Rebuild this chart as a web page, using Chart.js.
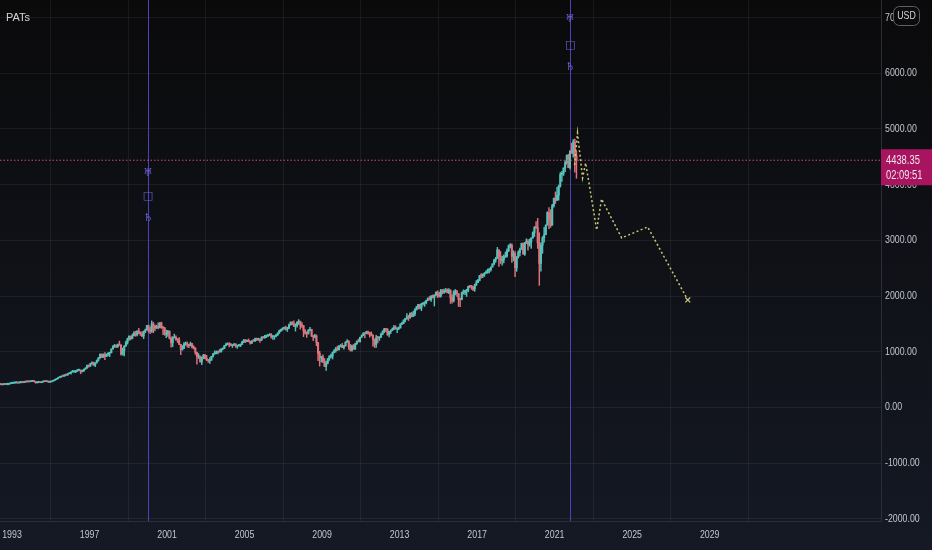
<!DOCTYPE html>
<html>
<head>
<meta charset="utf-8">
<script src="https://cdn.jsdelivr.net/npm/chart.js@4.4.1/dist/chart.umd.min.js"></script>
<style>
  html, body { margin: 0; padding: 0; background: #0c0d11; }
  #wrap { width: 932px; height: 550px; position: relative; }
</style>
</head>
<body>
<div id="wrap"><canvas id="myChart" width="932" height="550"></canvas></div>
<script>
// monthly S&P 500 candles, first one is May 1992
const startYear = 1992;
const startMonth = 5;
const firstOpen = 414.9;

const closes = [
  415.4, 408.1, 424.2, 414.0, 417.8, 418.7, 431.4, 435.7, // 1992
  438.8, 443.4, 451.7, 440.2, 450.2, 450.5, 448.1, 463.6, 458.9, 467.8, 461.8, 466.5, // 1993
  481.6, 467.1, 445.8, 450.9, 456.5, 444.3, 458.3, 475.5, 462.7, 472.4, 453.7, 459.3, // 1994
  470.4, 487.4, 500.7, 514.7, 533.4, 544.8, 562.1, 561.9, 584.4, 581.5, 605.4, 615.9, // 1995
  636.0, 640.4, 645.5, 654.2, 669.1, 670.6, 639.9, 651.9, 687.3, 705.3, 757.0, 740.7, // 1996
  786.2, 791.0, 757.1, 801.3, 848.3, 885.1, 954.3, 899.5, 947.3, 914.6, 955.4, 970.4, // 1997
  980.3, 1049.3, 1101.8, 1111.8, 1090.8, 1133.8, 1120.7, 957.3, 1017.0, 1098.7, 1163.6, 1229.2, // 1998
  1279.6, 1238.3, 1286.4, 1335.2, 1301.8, 1372.7, 1328.7, 1320.4, 1282.7, 1362.9, 1388.9, 1469.3, // 1999
  1394.5, 1366.4, 1498.6, 1452.4, 1420.6, 1454.6, 1430.8, 1517.7, 1436.5, 1429.4, 1315.2, 1320.3, // 2000
  1366.0, 1239.9, 1160.3, 1249.5, 1255.8, 1224.4, 1211.2, 1133.6, 1040.9, 1059.8, 1139.5, 1148.1, // 2001
  1130.2, 1106.7, 1147.4, 1076.9, 1067.1, 989.8, 911.6, 916.1, 815.3, 885.8, 936.3, 879.8, // 2002
  855.7, 841.2, 848.2, 916.9, 963.6, 974.5, 990.3, 1008.0, 996.0, 1050.7, 1058.2, 1111.9, // 2003
  1131.1, 1144.9, 1126.2, 1107.3, 1120.7, 1140.8, 1101.7, 1104.2, 1114.6, 1130.2, 1173.8, 1211.9, // 2004
  1181.3, 1203.6, 1180.6, 1156.9, 1191.5, 1191.3, 1234.2, 1220.3, 1228.8, 1207.0, 1249.5, 1248.3, // 2005
  1280.1, 1280.7, 1294.8, 1310.6, 1270.1, 1270.2, 1276.7, 1303.8, 1335.9, 1377.9, 1400.6, 1418.3, // 2006
  1438.2, 1406.8, 1420.9, 1482.4, 1530.6, 1503.4, 1455.3, 1474.0, 1526.8, 1549.4, 1481.1, 1468.4, // 2007
  1378.6, 1330.6, 1322.7, 1385.6, 1400.4, 1280.0, 1267.4, 1282.8, 1166.4, 968.8, 896.2, 903.3, // 2008
  825.9, 735.1, 797.9, 872.8, 919.1, 919.3, 987.5, 1020.6, 1057.1, 1036.2, 1095.6, 1115.1, // 2009
  1073.9, 1104.5, 1169.4, 1186.7, 1089.4, 1030.7, 1101.6, 1049.3, 1141.2, 1183.3, 1180.6, 1257.6, // 2010
  1286.1, 1327.2, 1325.8, 1363.6, 1345.2, 1320.6, 1292.3, 1218.9, 1131.4, 1253.3, 1246.9, 1257.6, // 2011
  1312.4, 1365.7, 1408.5, 1397.9, 1310.3, 1362.2, 1379.3, 1406.6, 1440.7, 1412.2, 1416.2, 1426.2, // 2012
  1498.1, 1514.7, 1569.2, 1597.6, 1630.7, 1606.3, 1685.7, 1633.0, 1681.6, 1756.5, 1805.8, 1848.4, // 2013
  1782.6, 1859.5, 1872.3, 1883.9, 1923.6, 1960.2, 1931.0, 2003.4, 1972.3, 2018.1, 2067.6, 2058.9, // 2014
  1995.0, 2104.5, 2067.9, 2085.5, 2107.4, 2063.1, 2104.0, 1972.2, 1920.0, 2079.4, 2080.4, 2043.9, // 2015
  1940.2, 1932.2, 2059.7, 2065.3, 2096.9, 2098.9, 2173.6, 2170.9, 2168.3, 2126.2, 2198.8, 2238.8, // 2016
  2278.9, 2363.6, 2362.7, 2384.2, 2411.8, 2423.4, 2470.3, 2471.7, 2519.4, 2575.3, 2647.6, 2673.6, // 2017
  2823.8, 2713.8, 2640.9, 2648.1, 2705.3, 2718.4, 2816.3, 2901.5, 2914.0, 2711.7, 2760.2, 2506.9, // 2018
  2704.1, 2784.5, 2834.4, 2945.8, 2752.1, 2941.8, 2980.4, 2926.5, 2976.7, 3037.6, 3141.0, 3230.8, // 2019
  3225.5, 2954.2, 2584.6, 2912.4, 3044.3, 3100.3, 3271.1, 3500.3, 3363.0, 3270.0, 3621.6, 3756.1, // 2020
  3714.2, 3811.2, 3972.9, 4181.2, 4204.1, 4297.5, 4395.3, 4522.7, 4307.5, 4605.4, 4567.0, 4766.2, // 2021
  4515.6, 4438.35 // 2022
];

const highs = [
  422, 416, 425, 425, 422, 420, 432, 442,
  442, 449, 456, 452, 453, 453, 451, 464, 463, 470, 468, 471,
  483, 482, 469, 451, 458, 459, 458, 477, 476, 474, 474, 466,
  473, 488, 505, 515, 534, 552, 563, 565, 587, 587, 608, 622,
  638, 664, 656, 656, 681, 673, 671, 670, 690, 714, 758, 761,
  794, 818, 815, 804, 851, 898, 962, 961, 960, 983, 960, 986,
  992, 1050, 1105, 1130, 1123, 1139, 1190, 1122, 1066, 1112, 1193, 1244,
  1285, 1282, 1317, 1362, 1368, 1373, 1420, 1357, 1361, 1373, 1408, 1473,
  1478, 1445, 1553, 1528, 1481, 1475, 1517, 1525, 1531, 1453, 1436, 1389,
  1383, 1376, 1268, 1270, 1316, 1287, 1239, 1255, 1134, 1110, 1163, 1173,
  1176, 1131, 1173, 1147, 1107, 1070, 992, 966, 924, 907, 954, 954,
  935, 864, 895, 919, 965, 1015, 1015, 1012, 1040, 1054, 1063, 1112,
  1155, 1159, 1163, 1150, 1127, 1146, 1141, 1109, 1131, 1140, 1188, 1217,
  1217, 1212, 1229, 1192, 1200, 1219, 1246, 1245, 1243, 1233, 1270, 1276,
  1295, 1297, 1310, 1326, 1326, 1284, 1280, 1307, 1340, 1389, 1407, 1431,
  1441, 1461, 1438, 1498, 1535, 1540, 1556, 1503, 1539, 1576, 1545, 1523,
  1471, 1396, 1359, 1397, 1440, 1404, 1292, 1313, 1303, 1167, 1007, 918,
  943, 877, 833, 877, 930, 956, 997, 1040, 1080, 1101, 1113, 1130,
  1150, 1113, 1181, 1220, 1200, 1132, 1120, 1130, 1151, 1196, 1227, 1263,
  1302, 1344, 1333, 1371, 1370, 1346, 1356, 1308, 1230, 1293, 1277, 1269,
  1333, 1378, 1419, 1422, 1415, 1363, 1392, 1427, 1474, 1466, 1419, 1448,
  1504, 1531, 1570, 1598, 1687, 1654, 1698, 1709, 1730, 1776, 1814, 1849,
  1850, 1868, 1884, 1897, 1925, 1968, 1991, 2005, 2019, 2019, 2076, 2093,
  2065, 2120, 2118, 2126, 2135, 2130, 2132, 2113, 2021, 2094, 2117, 2104,
  2038, 1963, 2073, 2111, 2103, 2121, 2178, 2194, 2188, 2169, 2214, 2278,
  2301, 2372, 2401, 2398, 2419, 2454, 2484, 2491, 2519, 2582, 2657, 2695,
  2873, 2835, 2801, 2718, 2742, 2791, 2848, 2917, 2940, 2939, 2815, 2800,
  2708, 2813, 2861, 2950, 2954, 2965, 3028, 3014, 3022, 3050, 3154, 3248,
  3337, 3394, 3137, 2955, 3068, 3233, 3280, 3514, 3588, 3550, 3646, 3760,
  3870, 3950, 3994, 4219, 4238, 4302, 4430, 4537, 4546, 4608, 4744, 4808,
  4818, 4595
];

const lows = [
  410, 401, 403, 410, 407, 402, 414, 425,
  425, 431, 437, 433, 436, 439, 441, 446, 450, 457, 455, 460,
  464, 464, 436, 435, 443, 442, 444, 457, 461, 460, 448, 449,
  457, 469, 481, 496, 510, 532, 541, 553, 559, 572, 578, 602,
  597, 633, 627, 624, 645, 662, 605, 639, 649, 684, 703, 723,
  737, 773, 756, 733, 793, 830, 886, 897, 896, 855, 912, 924,
  912, 980, 1047, 1076, 1074, 1077, 1114, 940, 939, 923, 1098, 1136,
  1204, 1212, 1231, 1282, 1277, 1282, 1324, 1293, 1268, 1233, 1342, 1387,
  1350, 1326, 1346, 1339, 1374, 1420, 1411, 1429, 1419, 1305, 1294, 1254,
  1275, 1228, 1081, 1091, 1246, 1203, 1165, 1127, 945, 1026, 1054, 1114,
  1081, 1074, 1106, 1063, 1048, 952, 775, 876, 815, 768, 872, 869,
  840, 806, 789, 847, 902, 951, 962, 960, 990, 995, 1031, 1053,
  1105, 1124, 1088, 1107, 1076, 1113, 1078, 1060, 1101, 1090, 1127, 1163,
  1163, 1180, 1176, 1137, 1146, 1188, 1183, 1201, 1201, 1168, 1201, 1245,
  1245, 1253, 1268, 1290, 1245, 1219, 1224, 1265, 1290, 1327, 1360, 1385,
  1403, 1389, 1364, 1416, 1476, 1484, 1454, 1370, 1439, 1489, 1406, 1435,
  1270, 1317, 1257, 1315, 1373, 1272, 1200, 1248, 1107, 839, 741, 815,
  805, 735, 666, 783, 843, 888, 869, 978, 992, 1020, 1029, 1086,
  1071, 1045, 1101, 1170, 1040, 1010, 1011, 1040, 1040, 1131, 1174, 1173,
  1257, 1289, 1249, 1321, 1312, 1259, 1283, 1101, 1075, 1075, 1158, 1202,
  1258, 1312, 1340, 1358, 1292, 1267, 1325, 1377, 1396, 1403, 1343, 1398,
  1426, 1485, 1501, 1537, 1581, 1560, 1604, 1627, 1633, 1646, 1746, 1767,
  1770, 1738, 1834, 1814, 1860, 1915, 1930, 1905, 1964, 1821, 2001, 1972,
  1981, 1980, 2039, 2048, 2068, 2056, 2044, 1867, 1872, 1894, 2019, 1993,
  1812, 1810, 1937, 2034, 2025, 1992, 2074, 2148, 2120, 2097, 2084, 2188,
  2245, 2271, 2322, 2328, 2352, 2405, 2407, 2417, 2446, 2520, 2557, 2605,
  2682, 2533, 2585, 2553, 2594, 2691, 2698, 2796, 2864, 2603, 2631, 2347,
  2444, 2682, 2722, 2848, 2750, 2728, 2959, 2822, 2892, 2855, 3051, 3070,
  3214, 2855, 2192, 2447, 2767, 2966, 3101, 3280, 3209, 3234, 3279, 3595,
  3663, 3725, 3723, 3955, 4056, 4165, 4233, 4367, 4305, 4278, 4560, 4495,
  4222, 4114
];

// projected path (yellow dotted)
const projYears  = [2022.03, 2022.18, 2022.44, 2022.60, 2023.17, 2023.42, 2024.46, 2025.80, 2027.87];
const projValues = [4353, 4928, 4120, 4390, 3187, 3743, 3043, 3241, 1930];

// last price
const lastPrice = 4438.35;
const countdown = '02:09:51';

// Uranus square Saturn markers
const eventYears = [2000.02, 2021.80];
const eventGlyphs = ['\u2645', '\u25A1', '\u2644'];
const eventGlyphValues = [
  [4214, 3786, 3393],
  [6964, 6500, 6107]
];

const yearTicks = [1993, 1997, 2001, 2005, 2009, 2013, 2017, 2021, 2025, 2029];
const priceTicks = [-2000, -1000, 0, 1000, 2000, 3000, 4000, 5000, 6000, 7000];

const X_MIN = 1992.38, X_MAX = 2037.84;
const Y_MIN = -2040, Y_MAX = 7316;

const upColor = '#56c2bc';
const downColor = '#e0727c';
const violet = '#4d43b8';
const labelColor = '#c3c6ce';
const labelFont = "11px 'Liberation Sans', 'DejaVu Sans', sans-serif";

// build candles
const bodies = [], wicks = [], candleColors = [];
let prevClose = firstOpen;
closes.forEach((c, i) => {
  const o = prevClose;
  prevClose = c;
  const t = startYear + (startMonth - 1 + i + 0.5) / 12;
  bodies.push({ x: t, y: [o, c] });
  wicks.push({ x: t, y: [lows[i], highs[i]] });
  candleColors.push(c >= o ? upColor : downColor);
});

const projection = projYears.map((y, i) => ({ x: y, y: projValues[i] }));

// narrow text like the TradingView axis font
function narrowText(ctx, text, x, y, align, squeeze) {
  ctx.save();
  ctx.translate(x, y);
  ctx.scale(squeeze, 1);
  ctx.textAlign = align;
  ctx.fillText(text, 0, 0);
  ctx.restore();
}

const bgPlugin = {
  id: 'bg',
  beforeDraw(chart) {
    const ctx = chart.ctx;
    const g = ctx.createLinearGradient(0, 0, 0, chart.height);
    g.addColorStop(0, '#0a0a0b');
    g.addColorStop(1, '#151924');
    ctx.save();
    ctx.fillStyle = g;
    ctx.fillRect(0, 0, chart.width, chart.height);
    ctx.restore();
  }
};

const eventPlugin = {
  id: 'events',
  beforeDatasetsDraw(chart) {
    const { ctx, chartArea, scales } = chart;
    ctx.save();
    ctx.strokeStyle = violet;
    ctx.lineWidth = 1;
    eventYears.forEach(yr => {
      const px = Math.round(scales.x.getPixelForValue(yr)) + 0.5;
      ctx.beginPath();
      ctx.moveTo(px, chartArea.top);
      ctx.lineTo(px, chartArea.bottom);
      ctx.stroke();
    });
    ctx.restore();
  },
  afterDatasetsDraw(chart) {
    const { ctx, scales } = chart;
    ctx.save();
    ctx.fillStyle = '#6c60d6';
    ctx.font = "11px 'DejaVu Sans', sans-serif";
    ctx.textAlign = 'center';
    ctx.textBaseline = 'middle';
    eventYears.forEach((yr, k) => {
      const px = scales.x.getPixelForValue(yr);
      eventGlyphs.forEach((g, j) => {
        ctx.fillText(g, px, scales.y.getPixelForValue(eventGlyphValues[k][j]));
      });
    });
    ctx.restore();
  }
};

const labelsPlugin = {
  id: 'labels',
  afterDraw(chart) {
    const { ctx, chartArea, scales } = chart;
    ctx.save();
    ctx.textBaseline = 'middle';
    ctx.font = labelFont;
    ctx.fillStyle = labelColor;

    // axis labels
    priceTicks.forEach(v => {
      narrowText(ctx, v.toFixed(2), chartArea.right + 4, scales.y.getPixelForValue(v), 'left', 0.8);
    });
    yearTicks.forEach(v => {
      narrowText(ctx, String(v), scales.x.getPixelForValue(v), chartArea.bottom + 14, 'center', 0.8);
    });

    // title
    ctx.fillStyle = '#d1d4dc';
    ctx.textAlign = 'left';
    ctx.fillText('PATs', 6, 18);

    // last price label
    const py = scales.y.getPixelForValue(lastPrice);
    const bx = chartArea.right;
    ctx.fillStyle = '#a8145f';
    ctx.fillRect(bx, py - 11, chart.width - bx, 36);
    ctx.fillStyle = '#f3e3ec';
    ctx.font = "12px 'Liberation Sans', 'DejaVu Sans', sans-serif";
    narrowText(ctx, lastPrice.toFixed(2), bx + 5, py, 'left', 0.78);
    narrowText(ctx, countdown, bx + 5, py + 15, 'left', 0.78);

    // currency badge
    ctx.fillStyle = '#0b0b0c';
    ctx.strokeStyle = '#5d606b';
    ctx.lineWidth = 1;
    ctx.beginPath();
    ctx.roundRect(893.5, 6.5, 26, 19, 6);
    ctx.fill();
    ctx.stroke();
    ctx.fillStyle = '#d1d4dc';
    ctx.font = labelFont;
    narrowText(ctx, 'USD', 906.5, 16, 'center', 0.8);
    ctx.restore();
  }
};

const config = {
  type: 'bar',
  data: {
    datasets: [
      {
        label: 'wicks',
        data: wicks,
        backgroundColor: candleColors,
        barThickness: 0.8,
        grouped: false,
        order: 3
      },
      {
        label: 'bodies',
        data: bodies,
        backgroundColor: candleColors,
        barThickness: 1.4,
        minBarLength: 1,
        grouped: false,
        order: 2
      },
      {
        type: 'line',
        label: 'last',
        data: [{ x: X_MIN, y: lastPrice }, { x: X_MAX, y: lastPrice }],
        borderColor: '#c94d86',
        borderWidth: 1,
        borderDash: [1.5, 2],
        pointRadius: 0,
        order: 1
      },
      {
        type: 'line',
        label: 'projection',
        data: projection,
        borderColor: '#c9c977',
        borderWidth: 1.5,
        borderDash: [2, 2.5],
        pointRadius: projYears.map((_, i) => i === projYears.length - 1 ? 3.5 : 0),
        pointStyle: 'crossRot',
        pointBorderColor: '#c9c977',
        pointBorderWidth: 1.2,
        tension: 0,
        order: 0
      }
    ]
  },
  options: {
    responsive: false,
    animation: false,
    devicePixelRatio: 1,
    layout: { padding: 0, autoPadding: false },
    plugins: { legend: { display: false }, tooltip: { enabled: false } },
    scales: {
      x: {
        type: 'linear',
        min: X_MIN,
        max: X_MAX,
        offset: false,
        afterBuildTicks: s => { s.ticks = yearTicks.map(v => ({ value: v })); },
        afterFit: s => { s.height = 29; },
        ticks: { display: false },
        grid: { color: 'rgba(255,255,255,0.06)', drawTicks: false },
        border: { color: '#2a2e39' }
      },
      y: {
        position: 'right',
        min: Y_MIN,
        max: Y_MAX,
        afterBuildTicks: s => { s.ticks = priceTicks.map(v => ({ value: v })); },
        afterFit: s => { s.width = 51; },
        ticks: { display: false },
        grid: { color: 'rgba(255,255,255,0.06)', drawTicks: false },
        border: { color: '#2a2e39' }
      }
    }
  },
  plugins: [bgPlugin, eventPlugin, labelsPlugin]
};

const canvas = document.getElementById('myChart');
const myChart = new Chart(canvas.getContext('2d'), config);
</script>
</body>
</html>
